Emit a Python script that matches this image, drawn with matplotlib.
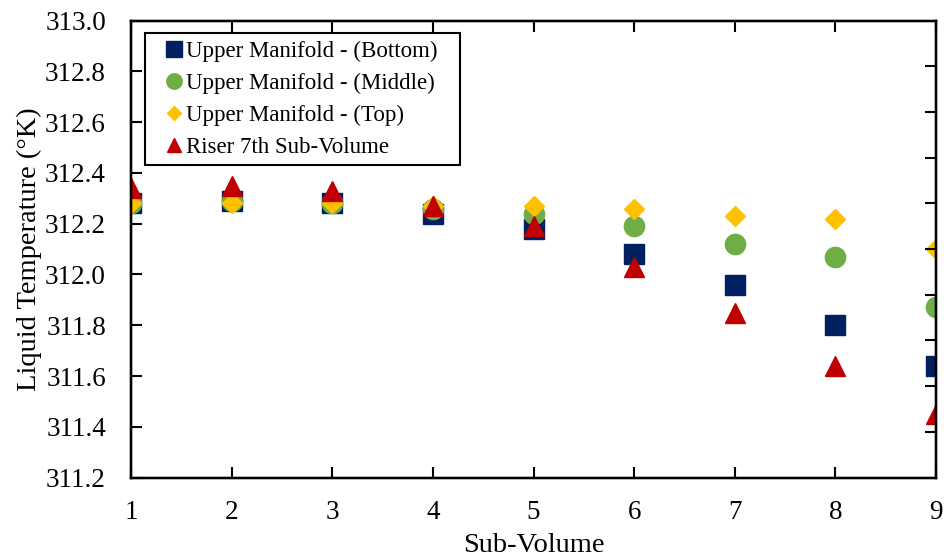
import matplotlib
matplotlib.use("Agg")
import matplotlib.pyplot as plt
from matplotlib.patches import Rectangle

plt.rcParams['font.family'] = ['Liberation Serif', 'DejaVu Serif']

sub_volume = [1, 2, 3, 4, 5, 6, 7, 8, 9]
bottom = [312.28, 312.29, 312.28, 312.24, 312.18, 312.08, 311.96, 311.80, 311.64]
middle = [312.28, 312.29, 312.28, 312.26, 312.24, 312.19, 312.12, 312.07, 311.87]
top = [312.28, 312.28, 312.28, 312.27, 312.27, 312.26, 312.23, 312.22, 312.10]
riser = [312.34, 312.35, 312.33, 312.27, 312.19, 312.03, 311.85, 311.64, 311.45]

labels = ['Upper Manifold - (Bottom)', 'Upper Manifold - (Middle)',
          'Upper Manifold - (Top)', 'Riser 7th Sub-Volume']

fig = plt.figure(figsize=(9.45, 5.6), dpi=100)
ax = fig.add_axes([0.1386, 0.1473, 0.852, 0.8157])

ax.plot(sub_volume, bottom, 's', color='#002060', ms=14.6, label=labels[0])
ax.plot(sub_volume, middle, 'o', color='#70AD47', ms=14.6, label=labels[1])
ax.plot(sub_volume, top, 'D', color='#FFC000', ms=10, label=labels[2])
ax.plot(sub_volume, riser, '^', color='#C00000', ms=14, label=labels[3])

ax.set_xlim(1, 9)
ax.set_ylim(311.2, 313.0)
ax.set_xticks(sub_volume)
ax.set_yticks([311.2 + 0.2 * i for i in range(10)])
ax.set_yticklabels([f'{311.2 + 0.2 * i:.1f}' for i in range(10)])

for s in ax.spines.values():
    s.set_linewidth(1.6)
ax.tick_params(axis='both', direction='in', length=8, width=1.5, labelsize=19.5)
ax.tick_params(axis='x', pad=16)
ax.tick_params(axis='y', pad=18)

ax.set_xlabel('Sub-Volume', fontsize=20.5, labelpad=6)
ax.set_ylabel('Liquid Temperature (°K)', fontsize=20.5, labelpad=2)

# ticks on top and right spines
axt = ax.twiny()
axt.set_xlim(1, 9)
axt.set_xticks(sub_volume)
axt.tick_params(axis='x', direction='in', length=8, width=1.5, labeltop=False)
axr = ax.twinx()
axr.set_ylim(0, 10)
axr.set_yticks(range(1, 10))
axr.tick_params(axis='y', direction='in', length=8, width=1.5, labelright=False)
for a in (axt, axr):
    for s in a.spines.values():
        s.set_linewidth(1.6)

handles, _ = ax.get_legend_handles_labels()
leg = axr.legend(handles, labels, loc='upper left', bbox_to_anchor=(0.018, 0.973),
                 borderaxespad=0, fontsize=16.5, frameon=False,
                 handlelength=1.88, handletextpad=-0.45, labelspacing=0.48,
                 borderpad=0.32, numpoints=1, markerscale=0.76)

# legend box, a bit wider on the right like the original
fig.canvas.draw()
bb = leg.get_window_extent()
frame = Rectangle((bb.x0, bb.y0), bb.width + 16, bb.height, transform=None,
                  fill=True, facecolor='white', edgecolor='black', lw=1.5,
                  zorder=4)
axr.add_artist(frame)
leg.set_zorder(5)

fig.savefig('out.png', dpi=100)
